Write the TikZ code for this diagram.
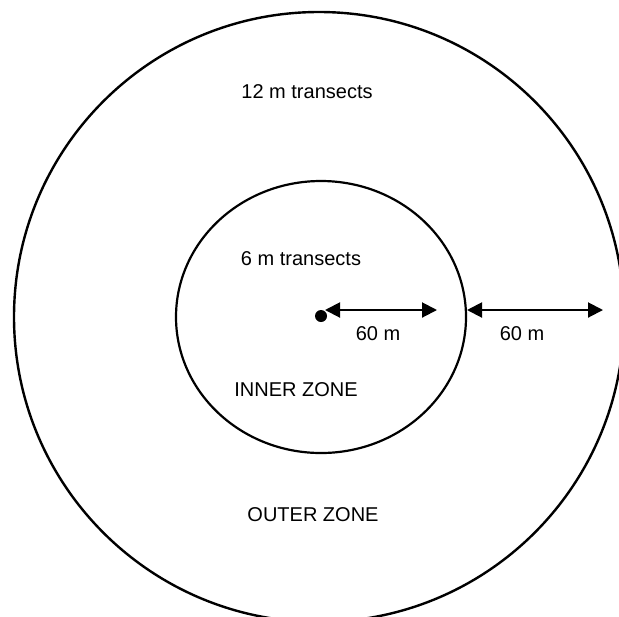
\documentclass[tikz,border=0pt]{standalone}
\usepackage{fontspec}
\setmainfont{Liberation Sans}
\usetikzlibrary{arrows.meta,positioning}

\begin{document}
\begin{tikzpicture}[x=0.5pt,y=-0.5pt,>={Triangle[length=7.5pt,width=7.5pt]},
    ring/.style={draw,line width=1.2pt},
    span/.style={<->,line width=1pt},
    lbl/.style={font=\fontsize{10}{12}\selectfont,inner sep=0pt}]

  \useasboundingbox (0,0) rectangle (619,616);

  % Zones
  \coordinate (c) at (319,317);
  \draw[ring] (c) circle[radius=305];
  \draw[ring,line width=1.1pt] (321,317) ellipse[x radius=145,y radius=136];
  \node[circle,fill,inner sep=0pt,minimum size=6pt] (centre) at (321,316) {};

  % Distances
  \coordinate (r1a) at (325,310);
  \coordinate (r1b) at (437,310);
  \coordinate (r2a) at (467,310);
  \coordinate (r2b) at (603,310);
  \draw[span] (r1a) -- (r1b);
  \draw[span] (r2a) -- (r2b);

  % Labels
  \node[lbl] (outerT) at (307,92) {12 m transects};
  \node[lbl] (innerT) at (301,259) {6 m transects};
  \node[lbl] (d1) at (378,334) {60 m};
  \node[lbl] (d2) at (522,334) {60 m};
  \node[lbl] (innerZ) at (296,390) {INNER ZONE};
  \node[lbl] (outerZ) at (313,515) {OUTER ZONE};

\end{tikzpicture}
\end{document}
